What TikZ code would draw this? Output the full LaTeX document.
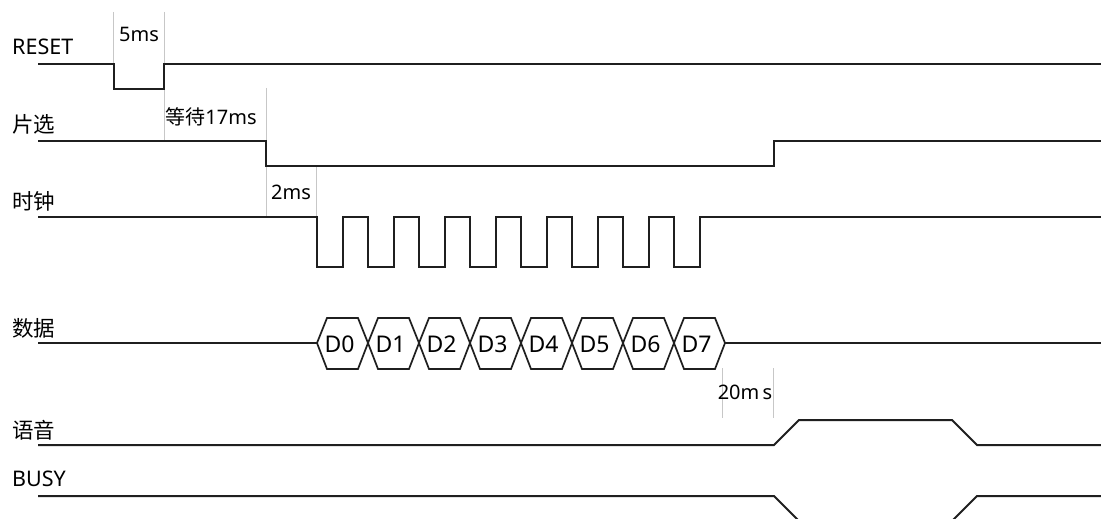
\documentclass[tikz,border=0pt]{standalone}
\usepackage{fontspec}
\setmainfont{Noto Sans}
\newfontfamily\cjk{Noto Sans CJK SC}
\begin{document}
\begin{tikzpicture}[x=1pt,y=-1pt,
  sig/.style={line width=2pt, black!88, line join=miter},
  hexsig/.style={line width=1.7pt, black!88, line join=miter},
  guide/.style={line width=1pt, black!22},
  lab/.style={anchor=west, inner sep=0pt, font=\fontsize{21.5}{24}\selectfont},
  note/.style={inner sep=0pt, font=\fontsize{20}{22}\selectfont},
  dlab/.style={inner sep=0pt, font=\fontsize{23}{25}\selectfont}]
\useasboundingbox[fill=white] (0,0) rectangle (1101,519);

% signal names
\node[lab] (lreset) at (12,47) {RESET};
\node[lab] (lcs) at (12,124) {\cjk 片选};
\node[lab] (lclk) at (12,201) {\cjk 时钟};
\node[lab] (ldata) at (12,328) {\cjk 数据};
\node[lab] (lvoice) at (12,430) {\cjk 语音};
\node[lab] (lbusy) at (12,479) {BUSY};

% guides and timing notes
\draw[guide] (113,12) -- (113,64);
\draw[guide] (164,12) -- (164,141);
\node[note] (t5) at (139,34) {5ms};
\draw[guide] (266,88) -- (266,217);
\node[note] (t17) at (211,117) {{\cjk 等待}17ms};
\draw[guide] (316,165) -- (316,217);
\node[note] (t2) at (291,192) {2ms};
\draw[guide] (722,368) -- (722,418);
\draw[guide] (773,368) -- (773,418);
\node[note] (t20) at (745,392) {20m\,s};

% RESET
\draw[sig] (38,64) -- (114,64) -- (114,89) -- (164,89) -- (164,64) -- (1101,64);
% chip select
\draw[sig] (38,141) -- (266,141) -- (266,166) -- (774,166) -- (774,141) -- (1101,141);
% clock
\draw[sig] (38,217) -- (317,217)
  \foreach \i in {0,...,7} { -- ({317+51*\i},267) -- ({342.5+51*\i},267) -- ({342.5+51*\i},217) -- ({368+51*\i},217) }
  -- (1101,217);
% data
\draw[hexsig] (38,343) -- (317,343);
\foreach \i in {0,...,7} {
  \pgfmathsetmacro{\a}{317+51*\i}
  \pgfmathsetmacro{\b}{368+51*\i}
  \draw[hexsig] (\a,343) -- (\a+10,318) -- (\b-10,318) -- (\b,343) -- (\b-10,369) -- (\a+10,369) -- cycle;
  \node[dlab] (d\i) at ({(\a+\b)/2-3},344) {D\i};
}
\draw[hexsig] (725,343) -- (1101,343);
% voice
\draw[sig] (38,445) -- (774,445) -- (799,420) -- (952,420) -- (977,445) -- (1101,445);
% BUSY
\draw[sig] (38,496) -- (774,496) -- (800,522) -- (951,522) -- (977,496) -- (1101,496);
\end{tikzpicture}
\end{document}
